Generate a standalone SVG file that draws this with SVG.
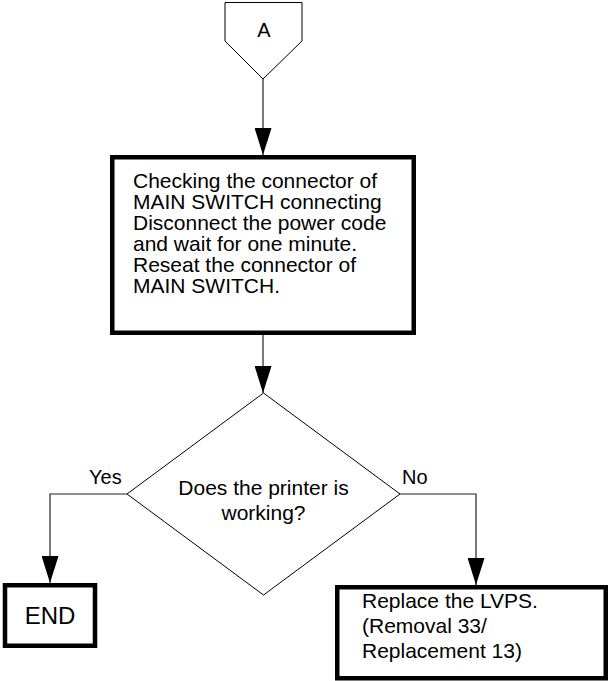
<svg xmlns="http://www.w3.org/2000/svg" width="610" height="681" viewBox="0 0 610 681">
<style>
text{font-family:"Liberation Sans",Arial,sans-serif;font-size:21px;fill:#000}
.lbl{font-size:20px}
.thin{fill:#fff;stroke:#000;stroke-width:1}
.thick{fill:#fff;stroke:#000;stroke-width:4.5}
.conn{fill:none;stroke:#222;stroke-width:1.2}
.c{text-anchor:middle}
</style>
<defs>
<marker id="arr" viewBox="0 0 27 17" refX="27" refY="8.5" markerWidth="27" markerHeight="17" markerUnits="userSpaceOnUse" orient="auto">
<path d="M0,0 L27,8.5 L0,17 z" fill="#000"/>
</marker>
</defs>
<rect width="610" height="681" fill="#fff"/>
<g id="connectors">
<path class="conn" d="M263,79 V155" marker-end="url(#arr)"/>
<path class="conn" d="M263,335 V393" marker-end="url(#arr)"/>
<path class="conn" d="M127,494 H50 V583" marker-end="url(#arr)"/>
<path class="conn" d="M400,494 H476 V585" marker-end="url(#arr)"/>
<text class="lbl" x="89" y="484">Yes</text>
<text class="lbl" x="402" y="484">No</text>
</g>
<g id="nodeA">
<path class="thin" d="M225,2.5 H302 V41 L263,79 L225,41 Z"/>
<text class="c lbl" x="264" y="37">A</text>
</g>
<g id="check">
<rect class="thick" x="112.25" y="157.25" width="301.5" height="175.5"/>
<text x="133" y="188">Checking the connector of</text>
<text x="133" y="209">MAIN SWITCH connecting</text>
<text x="133" y="230">Disconnect the power code</text>
<text x="133" y="251">and wait for one minute.</text>
<text x="133" y="272">Reseat the connector of</text>
<text x="133" y="293">MAIN SWITCH.</text>
</g>
<g id="decision">
<path class="thin" d="M263.5,393 L400,494 L263.5,595 L127,494 Z"/>
<text class="c" x="263.5" y="495">Does the printer is</text>
<text class="c" x="263.5" y="520">working?</text>
</g>
<g id="end">
<rect class="thick" x="5" y="585.25" width="90" height="60.5"/>
<text class="c" x="50" y="624" style="font-size:24px">END</text>
</g>
<g id="replace">
<rect class="thick" x="337.25" y="587.25" width="268.5" height="91"/>
<text x="362" y="608">Replace the LVPS.</text>
<text x="362" y="633">(Removal 33/</text>
<text x="362" y="658">Replacement 13)</text>
</g>
</svg>
